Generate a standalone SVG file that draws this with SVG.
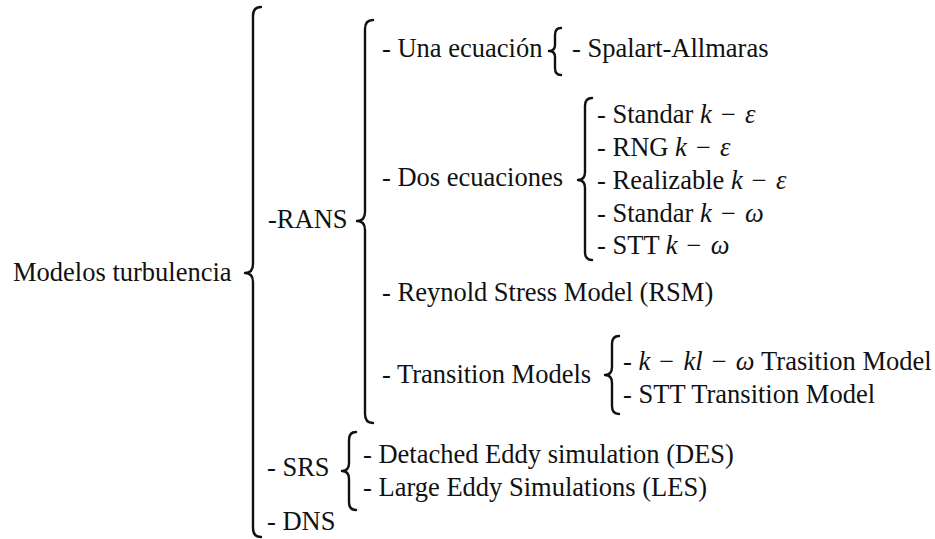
<svg xmlns="http://www.w3.org/2000/svg" width="935" height="539" viewBox="0 0 935 539">
<style>
.t{font-size:26.5px;fill:#111}
.m{font-style:italic}
.br{fill:none;stroke:#111;stroke-width:2.4;stroke-linecap:round;stroke-linejoin:round}
</style>
<rect width="935" height="539" fill="#fff"/>
<g id="connectors">
<path class="br" d="M261,7 Q253,7 253,16 L253,264 Q253,273 245,273 Q253,273 253,282 L253,528 Q253,537 261,537"/>
<path class="br" d="M373,20 Q365,20 365,29 L365,212 Q365,221 357,221 Q365,221 365,230 L365,414 Q365,423 373,423"/>
<path class="br" d="M561,28 Q555,28 555,35 L555,45 Q555,51 549,51 Q555,51 555,57 L555,68 Q555,75 561,75"/>
<path class="br" d="M592,98 Q585,98 585,106 L585,172 Q585,180 578,180 Q585,180 585,188 L585,252 Q585,260 592,260"/>
<path class="br" d="M619,336 Q612,336 612,344 L612,367 Q612,375 605,375 Q612,375 612,383 L612,406 Q612,414 619,414"/>
<path class="br" d="M356,432 Q349,432 349,440 L349,463 Q349,471 342,471 Q349,471 349,479 L349,502 Q349,510 356,510"/>
</g>
<g class="t" font-family="'Liberation Serif', 'Times New Roman', serif">
<g id="root"><text x="13" y="281">Modelos turbulencia</text></g>
<g id="rans"><text x="268" y="228">-RANS</text></g>
<g id="una"><text x="382" y="57">- Una ecuación</text></g>
<g id="spalart"><text x="572" y="57">- Spalart-Allmaras</text></g>
<g id="dos"><text x="382" y="186">- Dos ecuaciones</text></g>
<g id="std-ke"><text x="597" y="123">- Standar <tspan class="m">k</tspan> <tspan dx="2.5">−</tspan> <tspan class="m" dx="2.5">ε</tspan></text></g>
<g id="rng-ke"><text x="597" y="156">- RNG <tspan class="m">k</tspan> <tspan dx="2.5">−</tspan> <tspan class="m" dx="2.5">ε</tspan></text></g>
<g id="real-ke"><text x="597" y="189">- Realizable <tspan class="m">k</tspan> <tspan dx="2.5">−</tspan> <tspan class="m" dx="2.5">ε</tspan></text></g>
<g id="std-kw"><text x="597" y="222">- Standar <tspan class="m">k</tspan> <tspan dx="2.5">−</tspan> <tspan class="m" dx="2.5">ω</tspan></text></g>
<g id="stt-kw"><text x="597" y="254">- STT <tspan class="m">k</tspan> <tspan dx="2.5">−</tspan> <tspan class="m" dx="2.5">ω</tspan></text></g>
<g id="rsm"><text x="382" y="301">- Reynold Stress Model (RSM)</text></g>
<g id="transition"><text x="382" y="383">- Transition Models</text></g>
<g id="kklw"><text x="623" y="370">- <tspan class="m">k</tspan> <tspan dx="2.5">−</tspan> <tspan class="m" dx="2.5">kl</tspan> <tspan dx="2.5">−</tspan> <tspan class="m" dx="2.5">ω</tspan> Trasition Model</text></g>
<g id="stt-trans"><text x="623" y="403">- STT Transition Model</text></g>
<g id="srs"><text x="267" y="476">- SRS</text></g>
<g id="des"><text x="363" y="463">- Detached Eddy simulation (DES)</text></g>
<g id="les"><text x="363" y="496">- Large Eddy Simulations (LES)</text></g>
<g id="dns"><text x="267" y="530">- DNS</text></g>
</g>
</svg>
